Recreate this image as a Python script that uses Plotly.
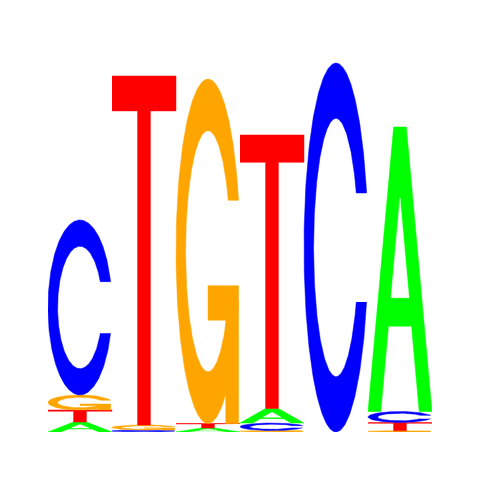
import numpy as np
import plotly.graph_objects as go

# letter heights (bits) per position 1..6
positions = [1, 2, 3, 4, 5, 6]
A_bits = [0.05, 0.0, 0.02, 0.0725, 0.0, 1.4225]
C_bits = [0.875, 0.01, 0.0, 0.0375, 1.845, 0.055]
G_bits = [0.075, 0.025, 1.7225, 0.0075, 0.0, 0.006]
T_bits = [0.06, 1.745, 0.0225, 1.3675, 0.0, 0.0415]

colors = {'A': '#00FF00', 'C': '#0000FF', 'G': '#FFA500', 'T': '#FF0000'}


# seqLogo style letter outlines in a unit box
def c_outline(with_bar=False):
    a1 = np.linspace(0.3 + np.pi / 2, np.pi, 100)
    a2 = np.linspace(np.pi, 1.5 * np.pi, 100)
    xl1 = 0.5 + 0.5 * np.sin(a1)
    yl1 = 0.5 + 0.5 * np.cos(a1)
    xl = np.concatenate([xl1, 0.5 + 0.5 * np.sin(a2)])
    yl = np.concatenate([yl1, 0.5 + 0.5 * np.cos(a2)])
    x = np.concatenate([xl, xl[::-1]])
    y = np.concatenate([yl, 1 - yl[::-1]])
    xi1 = 0.5 + 0.35 * np.sin(a1)
    yi1 = 0.5 + 0.35 * np.cos(a1)
    keep = yi1 <= yl1.max()
    xi1 = xi1[keep]
    yi1 = yi1[keep]
    yi1[0] = yl1.max()
    xi = np.concatenate([xi1, 0.5 + 0.35 * np.sin(a2)])
    yi = np.concatenate([yi1, 0.5 + 0.35 * np.cos(a2)])
    x1 = np.concatenate([xi, xi[::-1]])
    y1 = np.concatenate([yi, 1 - yi[::-1]])
    x = np.concatenate([x, x1[::-1]])
    y = np.concatenate([y, y1[::-1]])
    parts = [(x, y, 'main')]
    if with_bar:
        r1 = xl1.max()
        h1 = 0.4
        parts.append((np.array([r1, 0.5, 0.5, r1 - 0.2, r1 - 0.2, r1, r1]),
                      np.array([h1, h1, h1 - 0.1, h1 - 0.1, 0, 0, h1]), 'main'))
    return parts


def glyph(letter):
    if letter == 'A':
        return [(np.array([0, 4, 6, 10, 8, 6.8, 3.2, 2, 0]) / 10,
                 np.array([0, 10, 10, 0, 0, 3, 3, 0, 0]) / 10, 'main'),
                (np.array([3.6, 5, 6.4, 3.6]) / 10,
                 np.array([4, 7.5, 4, 4]) / 10, 'hole')]
    if letter == 'T':
        return [(np.array([0, 10, 10, 6, 6, 4, 4, 0]) / 10,
                 np.array([10, 10, 9, 9, 0, 0, 9, 9]) / 10, 'main')]
    if letter == 'C':
        return c_outline()
    return c_outline(with_bar=True)


bits = {'A': A_bits, 'C': C_bits, 'G': G_bits, 'T': T_bits}

fig = go.Figure()
for i, pos in enumerate(positions):
    stack = sorted([(bits[l][i], l) for l in 'ACGT'], key=lambda t: t[0])
    base = 0.0
    for h, l in stack:
        if h <= 0:
            continue
        for gx, gy, kind in glyph(l):
            col = colors[l] if kind == 'main' else 'white'
            fig.add_trace(go.Scatter(
                x=pos - 0.5 + gx, y=base + h * gy,
                mode='lines', fill='toself', fillcolor=col,
                line=dict(color=col, width=0.5),
                hoverinfo='skip', showlegend=False))
        base += h

# page body adds 8px, so margins are shifted by that
fig.update_layout(
    width=480, height=480,
    margin=dict(l=40, r=56, t=24, b=56),
    plot_bgcolor='white', paper_bgcolor='white',
    showlegend=False,
    xaxis=dict(range=[0.5, 6.5], visible=False, showgrid=False, zeroline=False),
    yaxis=dict(range=[0, 2], visible=False, showgrid=False, zeroline=False),
)

fig.write_html("out.html")
